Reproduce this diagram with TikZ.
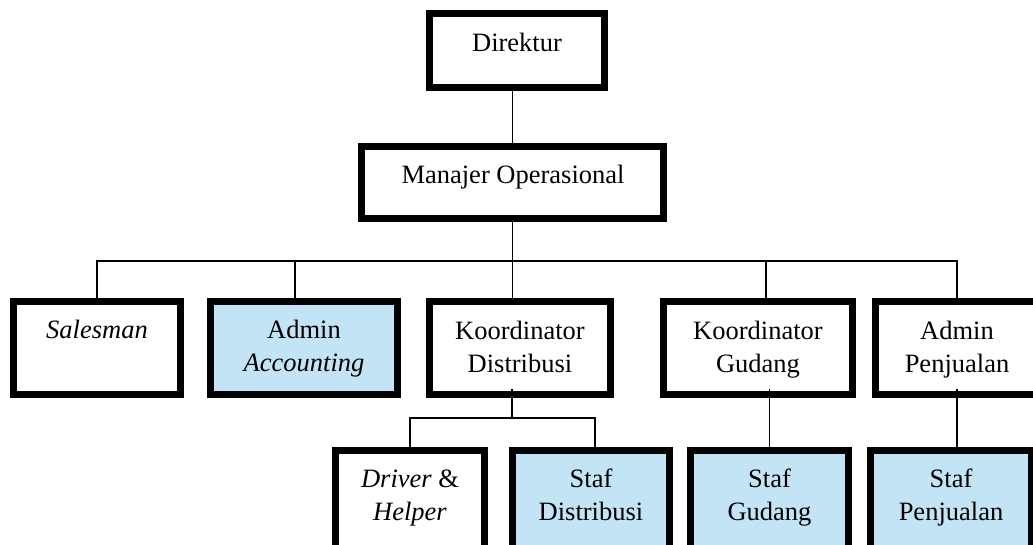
\documentclass[tikz,border=0pt]{standalone}
\usepackage{fontspec}
\setmainfont{Liberation Serif}
\definecolor{lblue}{RGB}{195,228,245}
\begin{document}
\begin{tikzpicture}[x=1pt,y=-1pt,
  box/.style={draw=black,line width=7pt,fill=white,inner sep=0pt,minimum height=93pt},
  bbox/.style={box,fill=lblue},
  lbl/.style={anchor=base,align=center,inner sep=0pt,font=\fontsize{26.5}{33}\selectfont},
  conn/.style={draw=black,line width=1.8pt}]
\useasboundingbox (0,0) rectangle (1033,544);
\clip (0,0) rectangle (1033,544);
% boxes
\node[box,minimum width=175pt,minimum height=74pt] (dir) at (517,50.5) {};
\node[box,minimum width=302pt,minimum height=72pt] (man) at (512.5,182.5) {};
\node[box,minimum width=167pt] (sal) at (97,348) {};
\node[bbox,minimum width=187pt] (acc) at (304,348) {};
\node[box,minimum width=181pt] (kd) at (520,348) {};
\node[box,minimum width=189pt] (kg) at (758,348) {};
\node[box,minimum width=163pt] (ap) at (957,348) {};
\node[box,minimum width=149pt,minimum height=106pt] (dh) at (410,503.5) {};
\node[bbox,minimum width=157pt,minimum height=106pt] (sd) at (591,503.5) {};
\node[bbox,minimum width=158pt,minimum height=106pt] (sg) at (769.5,503.5) {};
\node[bbox,minimum width=161pt,minimum height=106pt] (sp) at (951,503.5) {};
% texts (base = baseline of last line)
\node[lbl] (tdir) at (517,51.5) {Direktur};
\node[lbl] (tman) at (513,183.3) {Manajer Operasional};
\node[lbl] (tsal) at (97,338.3) {\itshape Salesman};
\node[lbl] (tacc) at (304,371.5) {Admin\\\itshape Accounting};
\node[lbl] (tkd) at (520,372) {Koordinator\\Distribusi};
\node[lbl] (tkg) at (758,372) {Koordinator\\Gudang};
\node[lbl] (tap) at (957,372) {Admin\\Penjualan};
\node[lbl] (tdh) at (410,520) {\itshape Driver \upshape\&\\\itshape Helper};
\node[lbl] (tsd) at (591,520) {Staf\\Distribusi};
\node[lbl] (tsg) at (769.5,520) {Staf\\Gudang};
\node[lbl] (tsp) at (951,520) {Staf\\Penjualan};
% connectors
\coordinate (bus) at (513,261);
\coordinate (bus2) at (512,418);
\coordinate (accT) at ([xshift=-9pt]acc.north);
\coordinate (kgT) at ([xshift=8pt]kg.north);
\coordinate (sdT) at ([xshift=4pt]sd.north);
\coordinate (kdb) at ([xshift=-8pt,yshift=9.5pt]kd.south);
\coordinate (kgb) at ([yshift=9.5pt]kg.south);
\coordinate (apb) at ([yshift=9.5pt]ap.south);
\draw[conn] (man.north) -- (man.north |- dir.south);
\draw[conn] (man.south) -- (man.south |- kd.north);
\draw[conn] (sal.north) -- (sal.north |- bus) -- (ap.north |- bus) -- (ap.north);
\draw[conn] (accT) -- (accT |- bus);
\draw[conn] (kgT) -- (kgT |- bus);
\draw[conn] (kdb) -- (bus2);
\draw[conn] (dh.north) -- (dh.north |- bus2) -- (sdT |- bus2) -- (sdT);
\draw[conn] (sg.north) -- (sg.north |- kgb);
\draw[conn] (apb) -- (apb |- sp.north);
\end{tikzpicture}
\end{document}
